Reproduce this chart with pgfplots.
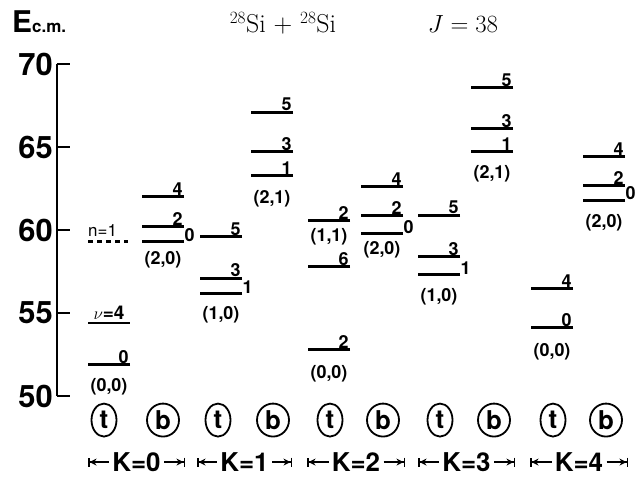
\documentclass[border=0pt]{standalone}
\usepackage{fontspec}
\usepackage{pgfplots}
\usepackage{pgfplotstable}
\pgfplotsset{compat=1.18}
\usetikzlibrary{arrows.meta,shapes.geometric}
\newfontfamily\hv{TeX Gyre Heros}
\tikzset{
  lab/.style={font=\hv\bfseries\fontsize{18}{18}\selectfont, inner sep=0pt},
  tb/.style={ellipse, draw, line width=1.8bp, minimum height=33bp, inner sep=0pt,
     font=\hv\bfseries\fontsize{26}{26}\selectfont},
  kl/.style={font=\hv\bfseries\fontsize{26}{26}\selectfont, inner sep=0pt},
  la/.style={line width=1.5bp, {Bar[width=9bp]Stealth[length=7bp,width=7bp]}-},
  ra/.style={line width=1.5bp, -{Stealth[length=7bp,width=7bp]Bar[width=9bp]}},
}

% levels: column centre, energy, label (above the right end)
\pgfplotstableread{
x   y    lab
109 51.9 0
163 62.0 4
163 60.2 2
221 59.6 5
221 57.1 3
272 67.1 5
272 64.7 3
272 63.3 1
329 60.6 2
329 57.8 6
329 52.8 2
382 62.6 4
382 60.9 2
439 60.9 5
439 58.4 3
492 68.6 5
492 66.1 3
492 64.7 1
552 56.5 4
552 54.1 0
604 64.4 4
604 62.7 2
}\levels

% levels whose label sits right of the line end
\pgfplotstableread{
x   y    lab
163 59.3 0
221 56.2 1
382 59.8 0
439 57.3 1
604 61.8 0
}\levelsR

\begin{document}
\begin{tikzpicture}
\begin{axis}[
  scale only axis, width=580bp, height=332bp,
  xmin=57, xmax=637, ymin=50, ymax=70,
  axis x line=none, axis y line=left,
  y axis line style={-, line width=2.2bp},
  xtick=\empty,
  ytick={50,55,60,65,70}, yticklabels={50,55,60,65,70},
  tick align=inside, major tick length=13bp,
  ytick style={line width=2.2bp, black},
  yticklabel style={font=\hv\bfseries\fontsize{31}{31}\selectfont, inner sep=0pt, xshift=-4bp},
  clip=false,
  lev/.style={only marks, mark=-, mark size=21bp, mark options={line width=3bp, black},
    point meta=explicit symbolic, nodes near coords},
]
\addplot[lev, every node near coord/.append style={lab, anchor=south east, xshift=21bp, yshift=-0.5bp}]
  table[meta=lab] {\levels};
\addplot[lev, every node near coord/.append style={lab, anchor=south west, xshift=20bp, yshift=-1.5bp}]
  table[meta=lab] {\levelsR};

% n=1 (dashed) and nu=4
\addplot[black, line width=2.4bp, dash pattern=on 5bp off 4bp] coordinates {(88,59.3) (128,59.3)};
\addplot[black, line width=1.4bp] coordinates {(88,54.4) (130,54.4)};
\node[lab, anchor=south west, font=\hv\fontsize{17}{17}\selectfont] at (axis cs:88,59.6) {n=1};
\node[lab, anchor=south, font=\hv\bfseries\fontsize{19}{19}\selectfont] at (axis cs:109,54.6) {$\nu$=4};

% band labels
\node[lab] at (axis cs:109,50.54) {(0,0)};
\node[lab] at (axis cs:163,58.19) {(2,0)};
\node[lab] at (axis cs:221,54.88) {(1,0)};
\node[lab] at (axis cs:272,61.9) {(2,1)};
\node[lab] at (axis cs:329,59.58) {(1,1)};
\node[lab] at (axis cs:329,51.33) {(0,0)};
\node[lab] at (axis cs:382,58.8) {(2,0)};
\node[lab] at (axis cs:439,55.96) {(1,0)};
\node[lab] at (axis cs:492,63.4) {(2,1)};
\node[lab] at (axis cs:552,52.65) {(0,0)};
\node[lab] at (axis cs:604,60.42) {(2,0)};

% circled t / b
\node[tb, minimum width=25bp] at (axis cs:104,48.55) {t};
\node[tb, minimum width=25bp] at (axis cs:218,48.55) {t};
\node[tb, minimum width=25bp] at (axis cs:330,48.55) {t};
\node[tb, minimum width=25bp] at (axis cs:440,48.55) {t};
\node[tb, minimum width=25bp] at (axis cs:553,48.55) {t};
\node[tb, minimum width=32bp] at (axis cs:163,48.55) {b};
\node[tb, minimum width=32bp] at (axis cs:273,48.55) {b};
\node[tb, minimum width=32bp] at (axis cs:383,48.55) {b};
\node[tb, minimum width=32bp] at (axis cs:494,48.55) {b};
\node[tb, minimum width=32bp] at (axis cs:606,48.55) {b};

% K groups
\node[kl] at (axis cs:136.5,46.02) {K=0};
\draw[la] (axis cs:88,46.02) -- (axis cs:109,46.02);
\draw[ra] (axis cs:164,46.02) -- (axis cs:185,46.02);
\node[kl] at (axis cs:244.5,46.02) {K=1};
\draw[la] (axis cs:197,46.02) -- (axis cs:217,46.02);
\draw[ra] (axis cs:272,46.02) -- (axis cs:292,46.02);
\node[kl] at (axis cs:356,46.02) {K=2};
\draw[la] (axis cs:307,46.02) -- (axis cs:328.5,46.02);
\draw[ra] (axis cs:383.5,46.02) -- (axis cs:405,46.02);
\node[kl] at (axis cs:466.5,46.02) {K=3};
\draw[la] (axis cs:418,46.02) -- (axis cs:439,46.02);
\draw[ra] (axis cs:494,46.02) -- (axis cs:515,46.02);
\node[kl] at (axis cs:579,46.02) {K=4};
\draw[la] (axis cs:530,46.02) -- (axis cs:551.5,46.02);
\draw[ra] (axis cs:606.5,46.02) -- (axis cs:628,46.02);

% titles
\node[anchor=base west, inner sep=0pt] at (axis cs:12,71.87)
  {\hv\bfseries\fontsize{30}{30}\selectfont E\fontsize{17}{17}\selectfont c.m.};
\node[anchor=base, inner sep=0pt, font=\fontsize{26}{26}\selectfont] at (axis cs:283,71.87) {$^{28}$Si + $^{28}$Si};
\node[anchor=base, inner sep=0pt, font=\fontsize{26}{26}\selectfont] at (axis cs:463,71.87) {$J = 38$};

\coordinate (bbsw) at (axis cs:0,45.12);
\coordinate (bbne) at (axis cs:637,73.855);
\end{axis}
\pgfresetboundingbox
\path (bbsw) rectangle (bbne);
\end{tikzpicture}
\end{document}
